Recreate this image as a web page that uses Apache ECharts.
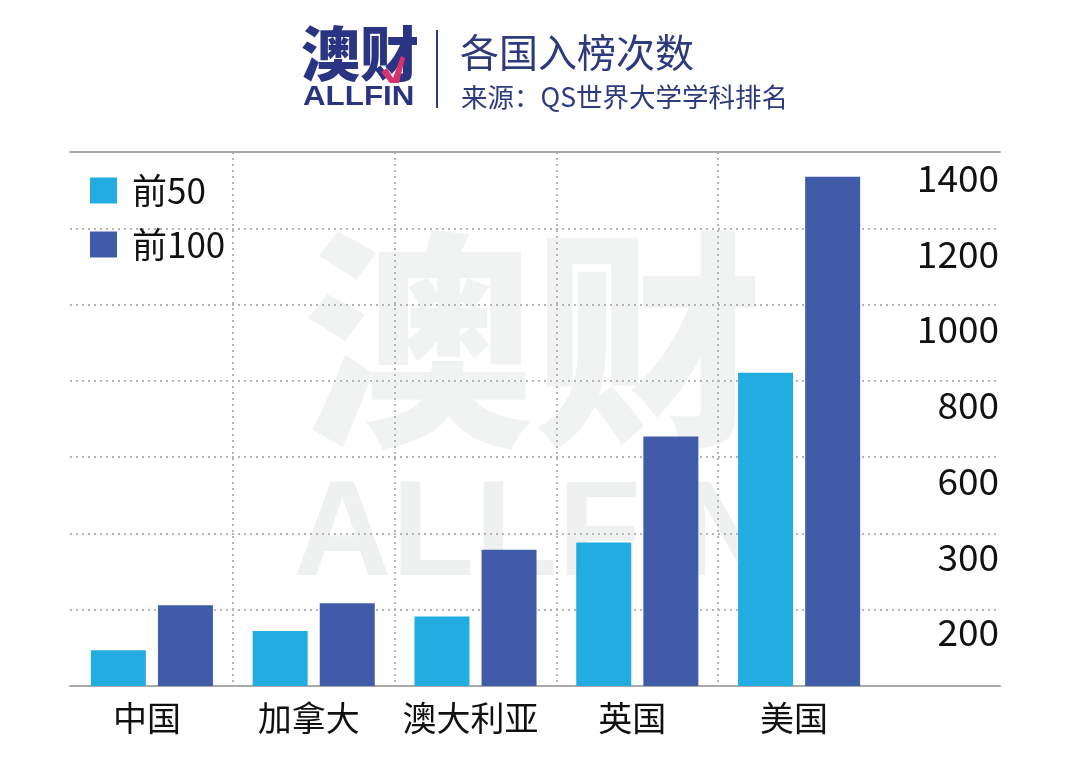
<!DOCTYPE html>
<html>
<head>
<meta charset="utf-8">
<script src="https://cdn.jsdelivr.net/npm/echarts@6/dist/echarts.min.js"></script>
<style>html,body{margin:0;padding:0;background:#fff}#c{width:1080px;height:767px}</style>
</head>
<body>
<div id="c"></div>
<script>
var categories = ['中国', '加拿大', '澳大利亚', '英国', '美国'];
var top50 = [94, 144, 182, 376, 821];
var top100 = [212, 217, 357, 654, 1335];
var seriesNames = ['前50', '前100'];
var yTickLabels = ['', '200', '300', '600', '800', '1000', '1200', '1400'];
var titleText = '各国入榜次数';
var subtitleText = '来源：QS世界大学学科排名';

var FONT = '"Noto Sans CJK SC", "Noto Sans", sans-serif';
var NAVY = '#2d3a7e';
var chart = echarts.init(document.getElementById('c'));
chart.setOption({
  backgroundColor: '#ffffff',
  animation: false,
  textStyle: { fontFamily: FONT },
  graphic: [
    { type: 'text', z: -10, style: { text: '澳财', x: 533, y: 340, fontSize: 230, fontWeight: 900, fontFamily: FONT, fill: '#f1f2f2', align: 'center', verticalAlign: 'middle' } },
    { type: 'text', z: -10, style: { text: 'ALLFIN', x: 535, y: 537, fontSize: 136, fontWeight: 'bold', fontFamily: '"Liberation Sans", Arial, sans-serif', fill: '#eff0f0', align: 'center', verticalAlign: 'middle' } },
    { type: 'text', style: { text: '澳财', x: 301, y: 54, fontSize: 59, fontWeight: 900, fontFamily: FONT, fill: '#2b3482', align: 'left', verticalAlign: 'middle' } },
    { type: 'polygon', shape: { points: [[381, 72], [387, 68], [393, 78], [401, 56], [405, 58], [399, 83], [390, 83]] }, style: { fill: '#d8336a' } },
    { type: 'text', x: 303, y: 98, scaleX: 1.16, style: { text: 'ALLFIN', x: 0, y: 0, fontSize: 27, fontWeight: 'bold', fontFamily: '"Liberation Sans", Arial, sans-serif', fill: '#2b3482', align: 'left', verticalAlign: 'middle' } },
    { type: 'line', shape: { x1: 437, y1: 30, x2: 437, y2: 108 }, style: { stroke: NAVY, lineWidth: 2 } },
    { type: 'text', style: { text: titleText, x: 460, y: 52, fontSize: 39, fontFamily: FONT, fill: NAVY, align: 'left', verticalAlign: 'middle' } },
    { type: 'text', style: { text: subtitleText, x: 461, y: 97, fontSize: 26.5, fontFamily: FONT, fill: NAVY, align: 'left', verticalAlign: 'middle' } }
  ],
  legend: {
    orient: 'vertical',
    left: 85,
    top: 168,
    itemWidth: 27,
    itemHeight: 26,
    itemGap: 19,
    icon: 'rect',
    data: seriesNames,
    textStyle: { fontSize: 35, lineHeight: 35, color: '#111', fontFamily: FONT, padding: [0, 0, 0, 10] }
  },
  grid: [
    { left: 70, right: 80, top: 152, bottom: 81 },
    { left: 71, width: 809, top: 152, bottom: 81 },
    { left: 880, right: 80, top: 178, bottom: 59 }
  ],
  xAxis: [
    { gridIndex: 0, type: 'value', position: 'bottom', min: 0, max: 1, axisLabel: { show: false }, axisTick: { show: false }, splitLine: { show: false }, axisLine: { show: true, lineStyle: { color: '#a9a9a9', width: 2 } } },
    { gridIndex: 0, type: 'value', position: 'top', min: 0, max: 1, axisLabel: { show: false }, axisTick: { show: false }, splitLine: { show: false }, axisLine: { show: true, lineStyle: { color: '#a9a9a9', width: 2 } } },
    {
      gridIndex: 1, type: 'category', data: categories,
      axisLine: { show: false }, axisTick: { show: false },
      axisLabel: { interval: 0, fontSize: 34, color: '#111', margin: 15, fontFamily: FONT, padding: [0, 10, 0, 0] },
      splitLine: { show: true, interval: 0, showMinLine: false, showMaxLine: false, lineStyle: { color: '#b4b4b4', type: [2, 4], width: 2 } }
    },
    { gridIndex: 2, type: 'value', show: false }
  ],
  yAxis: [
    {
      gridIndex: 0, type: 'value', min: 0, max: 1400, interval: 200,
      axisLine: { show: false }, axisTick: { show: false }, axisLabel: { show: false },
      splitLine: { show: true, showMinLine: false, showMaxLine: false, lineStyle: { color: '#b4b4b4', type: [2, 4], width: 2 } }
    },
    { gridIndex: 1, type: 'value', min: 0, max: 1400, interval: 200, show: false, splitLine: { show: false } },
    {
      gridIndex: 2, type: 'value', position: 'right', min: 0, max: 1400, interval: 200,
      axisLine: { show: false }, axisTick: { show: false }, splitLine: { show: false },
      axisLabel: {
        inside: true, margin: 1, align: 'right', fontSize: 37, color: '#111', fontFamily: FONT,
        formatter: function (v) { return yTickLabels[Math.round(v / 200)] || ''; }
      }
    }
  ],
  series: [
    { name: seriesNames[0], type: 'bar', xAxisIndex: 2, yAxisIndex: 1, data: top50, barWidth: 55, barGap: '22%', itemStyle: { color: '#22ace2' }, z: 3 },
    { name: seriesNames[1], type: 'bar', xAxisIndex: 2, yAxisIndex: 1, data: top100, barWidth: 55, barGap: '22%', itemStyle: { color: '#405ca8' }, z: 3 }
  ]
});
</script>
</body>
</html>
